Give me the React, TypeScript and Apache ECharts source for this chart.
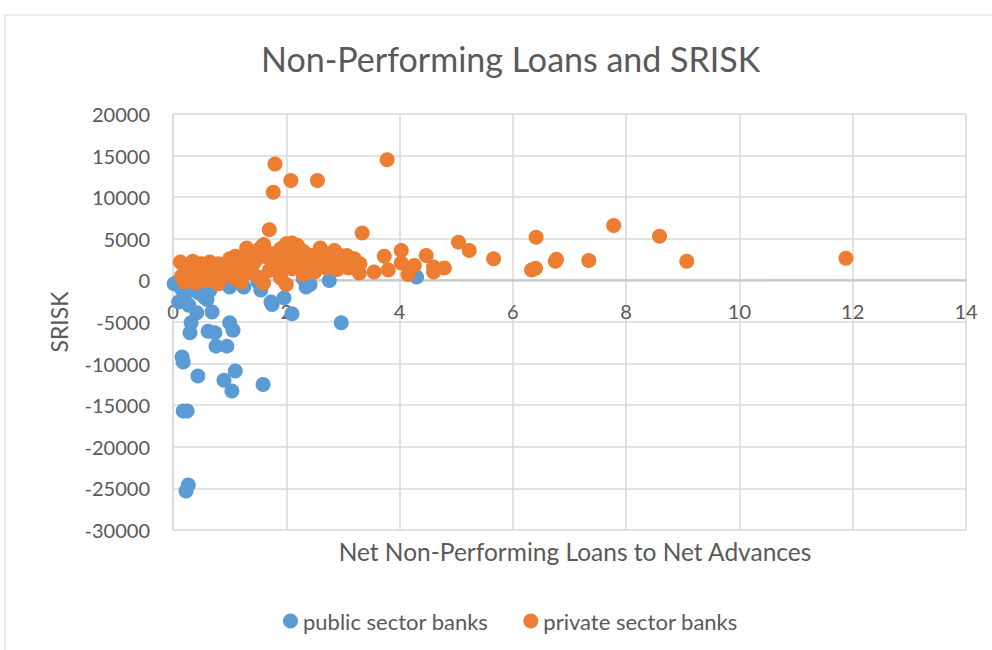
import React, { useEffect, useRef } from "react";
import * as echarts from "echarts";

const chartTitle = "Non-Performing Loans and SRISK";
const xAxisName = "Net Non-Performing Loans to Net Advances";
const yAxisName = "SRISK";
const seriesNames = ["public sector banks", "private sector banks"];

const xTicks = { min: 0, max: 14, interval: 2 };
const yTicks = { min: -30000, max: 20000, interval: 5000 };

// [Net NPL to Net Advances, SRISK]
const publicSector: [number, number][] = [
  [0.02, -400], [0.1, -2600], [0.16, -9200], [0.18, -9800], [0.18, -15700],
  [0.25, -15700], [0.27, -24600], [0.23, -25300], [0.3, -6300], [0.32, -5100],
  [0.44, -11500], [0.2, -1800], [0.32, -1150], [0.55, -2000], [0.28, -3000],
  [0.42, -3900], [0.69, -3800], [0.62, -6100], [0.74, -6300], [0.76, -7900],
  [0.95, -7900], [1.0, -5100], [1.06, -6000], [0.9, -12000], [1.1, -10900],
  [1.04, -13300], [1.59, -12500], [2.97, -5100], [2.1, -4000], [1.75, -2900],
  [1.96, -2100], [1.55, -1150], [1.73, -2600], [2.35, -800], [2.42, -500],
  [2.76, 0], [4.3, 400], [2.1, 2800], [0.6, -2300], [1.0, -800],
  [1.25, -800], [0.05, -300], [0.3, 0], [2.3, 200], [0.45, -1500],
  [0.65, -1200], [0.85, -300], [1.5, -200], [1.9, 500], [0.15, -1000],
];

const privateSector: [number, number][] = [
  [1.8, 14000], [2.08, 12000], [2.55, 12000], [1.77, 10600], [1.7, 6100],
  [3.78, 14500], [3.34, 5700], [5.04, 4600], [5.23, 3600], [5.66, 2600],
  [6.41, 5200], [6.33, 1250], [6.4, 1450], [6.75, 2300], [6.77, 2550],
  [7.34, 2400], [7.78, 6600], [8.59, 5300], [9.07, 2300], [11.88, 2650],
  [2.85, 3600], [3.07, 3000], [3.2, 2600], [3.29, 900], [3.55, 1000],
  [3.73, 2900], [3.8, 1250], [4.03, 3600], [4.03, 2100], [4.15, 700],
  [4.26, 1800], [4.47, 3000], [4.6, 1000], [4.79, 1500], [4.6, 1600],
  [0.13, 2200], [0.2, 1800], [0.35, 2300], [0.5, 2000], [0.65, 2200],
  [0.8, 2000], [1.0, 2600], [1.1, 2900], [1.3, 3900], [1.5, 3600],
  [1.56, 4000], [1.6, 4300], [1.75, 3200], [1.9, 3800], [2.0, 4400],
  [2.1, 4500], [2.2, 4200], [2.3, 3500], [2.45, 3000], [2.6, 3900],
  [2.7, 3200], [2.95, 3000], [3.1, 2200], [0.15, 500], [0.2, -200],
  [0.25, 1000], [0.3, 400], [0.4, -300], [0.5, 800], [0.6, 0],
  [0.7, 1200], [0.8, -400], [0.9, 500], [1.0, 1500], [1.1, 200],
  [1.2, -200], [1.3, 900], [1.4, 1800], [1.5, 400], [1.6, -300],
  [1.7, 1200], [1.8, 2500], [1.9, 300], [2.0, -500], [2.1, 1400],
  [2.2, 2200], [2.3, 700], [2.4, 1800], [2.5, 1000], [2.6, 2300],
  [2.7, 1500], [2.8, 2000], [2.9, 1300], [3.0, 1800], [3.1, 1500],
  [3.3, 2000], [0.25, 1500], [0.45, 1300], [0.55, 1700], [0.75, 900],
  [0.95, 1800], [1.15, 1200], [1.25, 2400], [1.35, 2800], [1.45, 2300],
  [1.65, 2800], [1.85, 1500], [1.95, 2600], [2.15, 3100], [2.35, 2500],
  [2.55, 2500],
];

const FONT = "Lato";
const TEXT = "#595959";

export default function App() {
  const ref = useRef<HTMLDivElement>(null);
  useEffect(() => {
    if (!ref.current) return;
    const chart = echarts.init(ref.current, undefined, { renderer: "svg" });
    chart.setOption({
      animation: false,
      backgroundColor: "#ffffff",
      textStyle: { fontFamily: FONT, color: TEXT },
      title: {
        text: chartTitle,
        left: 256,
        top: 36,
        textStyle: { fontFamily: FONT, fontSize: 34, fontWeight: "normal", color: TEXT },
      },
      grid: { left: 173, right: 26, top: 114, bottom: 120, containLabel: false },
      legend: {
        top: 605,
        left: 278,
        itemWidth: 15,
        itemHeight: 15,
        itemGap: 35,
        icon: "circle",
        textStyle: { fontFamily: FONT, fontSize: 22, color: TEXT },
        data: seriesNames,
      },
      xAxis: {
        type: "value",
        position: "bottom",
        offset: -250,
        min: xTicks.min,
        max: xTicks.max,
        interval: xTicks.interval,
        axisLine: { onZero: false, lineStyle: { color: "#bfbfbf", width: 1.5 } },
        axisTick: { show: false },
        axisLabel: { fontFamily: FONT, fontSize: 20, color: TEXT, margin: 21 },
        splitLine: { show: true, lineStyle: { color: "#d9d9d9", width: 1.5 } },
      },
      yAxis: {
        type: "value",
        min: yTicks.min,
        max: yTicks.max,
        interval: yTicks.interval,
        axisLine: { show: true, onZero: false, lineStyle: { color: "#d9d9d9", width: 1.5 } },
        axisTick: { show: false },
        axisLabel: {
          fontFamily: FONT,
          fontSize: 20,
          color: TEXT,
          margin: 23,
          formatter: (v: number) => String(v),
        },
        splitLine: { show: true, lineStyle: { color: "#d9d9d9", width: 1.5 } },
      },
      graphic: [
        {
          type: "rect",
          shape: { x: 5, y: 15, width: 1000, height: 700 },
          style: { fill: "none", stroke: "#d9d9d9", lineWidth: 1 },
          silent: true,
        },
        {
          type: "text",
          x: 575,
          y: 551,
          style: {
            text: xAxisName,
            fontFamily: FONT,
            fontSize: 24.5,
            fill: TEXT,
            textAlign: "center",
            textVerticalAlign: "middle",
          },
        },
        {
          type: "text",
          x: 59,
          y: 322,
          rotation: Math.PI / 2,
          style: {
            text: yAxisName,
            fontFamily: FONT,
            fontSize: 23,
            fill: TEXT,
            textAlign: "center",
            textVerticalAlign: "middle",
          },
        },
      ],
      series: [
        {
          name: seriesNames[0],
          type: "scatter",
          symbol: "circle",
          symbolSize: 15,
          itemStyle: { color: "#5b9bd5", opacity: 1 },
          data: publicSector,
          z: 2,
        },
        {
          name: seriesNames[1],
          type: "scatter",
          symbol: "circle",
          symbolSize: 15,
          itemStyle: { color: "#ed7d31", opacity: 1 },
          data: privateSector,
          z: 3,
        },
      ],
    });
    return () => chart.dispose();
  }, []);
  return (
    <div
      ref={ref}
      style={{ position: "fixed", left: 0, top: 0, width: 992, height: 650 }}
    />
  );
}
